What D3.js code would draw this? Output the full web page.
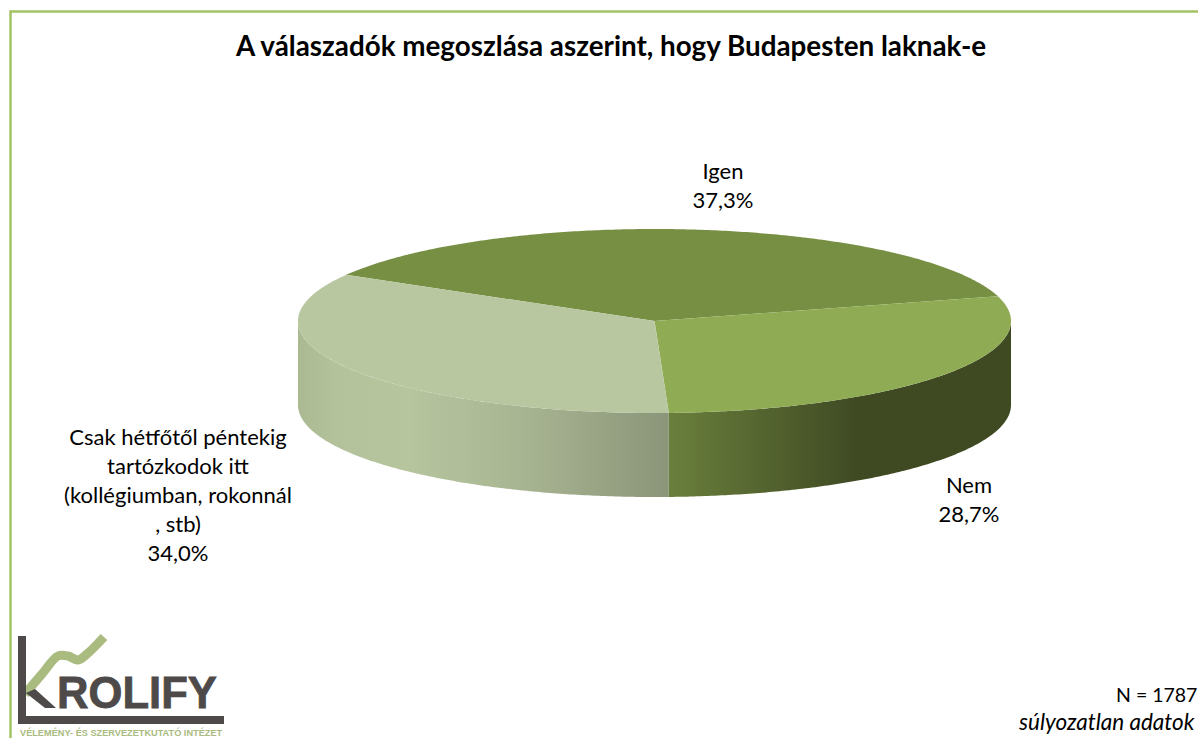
<!DOCTYPE html>
<html><head><meta charset="utf-8">
<script src="https://cdn.jsdelivr.net/npm/d3@7"></script>
<style>html,body{margin:0;padding:0;background:#fff;overflow:hidden}svg{display:block}text{font-family:Lato,"Open Sans",sans-serif;fill:#000}</style>
</head><body><svg id="c" width="1198" height="738"></svg>
<script>
const titleText = "A válaszadók megoszlása aszerint, hogy Budapesten laknak-e";
const categories = ["Igen", "Nem", "Csak hétfőtől péntekig tartózkodok itt (kollégiumban, rokonnál , stb)"];
const values = [37.3, 28.7, 34.0];
const labelLines = [["Igen"], ["Nem"], ["Csak hétfőtől péntekig", "tartózkodok itt", "(kollégiumban, rokonnál", ", stb)"]];
const topColors = ["#778f43", "#8fac54", "#b8c7a0"];
const noteLines = ["N = 1787", "súlyozatlan adatok"];
const logoWord = "ROLIFY";
const logoTag = "VÉLEMÉNY- ÉS SZERVEZETKUTATÓ INTÉZET";

const svg = d3.select("#c");
const cx = 654.5, cy = 321, rx = 356.5, ry = 92, depth = 84;
const x = d3.scaleLinear().domain([-1, 1]).range([cx - rx, cx + rx]);
const y = d3.scaleLinear().domain([-1, 1]).range([cy - ry, cy + ry]);
const rad = d => d * Math.PI / 180;
const start = rad(300.1);
const arcs = d3.pie().sort(null).value(d => d).startAngle(start).endAngle(start + 2 * Math.PI)(values);
const onRim = t => [x(Math.sin(t)), y(-Math.cos(t))];
const samples = (a, b) => { const n = Math.ceil(Math.abs(b - a) / 0.01); return d3.range(n + 1).map(i => a + (b - a) * i / n); };
const line = d3.line();

// border
svg.append("path").attr("d", "M10.5,738V11.5H1198").attr("fill", "none").attr("stroke", "#a3c264").attr("stroke-width", 2.5);

// gradients for the wall
const defs = svg.append("defs");
function grad(id, x1, x2, stops) {
  const g = defs.append("linearGradient").attr("id", id).attr("gradientUnits", "userSpaceOnUse")
    .attr("x1", x1).attr("x2", x2).attr("y1", 0).attr("y2", 0);
  stops.forEach(s => g.append("stop").attr("offset", s[0]).attr("stop-color", s[1]));
}
grad("w1", 669, 1011, [[0, "#6a7f3c"], [0.55, "#3f4a23"], [1, "#3f4a23"]]);
grad("w2", 298, 669, [[0, "#aab991"], [0.1, "#b3c29b"], [0.3, "#b6c59e"], [0.6, "#a8b592"], [1, "#8b9579"]]);

// side walls: only the part of the rim that faces the viewer (angles here run past a full turn)
const wallFront = [rad(450), rad(630)];
[[1, "w1"], [2, "w2"]].forEach(([i, id]) => {
  const a = Math.max(arcs[i].startAngle, wallFront[0]);
  const b = Math.min(arcs[i].endAngle, wallFront[1]);
  const upper = samples(a, b).map(onRim);
  const lower = upper.slice().reverse().map(p => [p[0], p[1] + depth]);
  svg.append("path").attr("d", line(upper.concat(lower)) + "Z").attr("fill", `url(#${id})`);
});

// top faces
arcs.forEach((d, i) => {
  const pts = [[x(0), y(0)]].concat(samples(d.startAngle, d.endAngle).map(onRim));
  svg.append("path").attr("d", line(pts) + "Z").attr("fill", topColors[i]);
});

// title
svg.append("text").attr("x", 611).attr("y", 56).attr("text-anchor", "middle")
  .attr("font-size", 27.8).attr("font-weight", 700).text(titleText);

// data labels
const pct = v => v.toFixed(1).replace(".", ",") + "%";
const labelAnchor = [[723, 179, 29], [969, 493, 29], [178, 445, 29]];
labelLines.forEach((ls, i) => {
  const [lx, ly, lh] = labelAnchor[i];
  const t = svg.append("text").attr("text-anchor", "middle").attr("font-size", 22);
  ls.concat(pct(values[i])).forEach((s, k) => t.append("tspan").attr("x", lx).attr("y", ly + k * lh).text(s));
});

// note
svg.append("text").attr("x", 1116).attr("y", 702).attr("font-size", 19.5).text(noteLines[0]);
svg.append("text").attr("x", 1019).attr("y", 730).attr("font-size", 22.5).attr("font-style", "italic").text(noteLines[1]);

// logo
const logo = svg.append("g");
logo.append("path").attr("d", d3.line().curve(d3.curveCatmullRom)([[25, 694], [42, 674], [58, 656], [68, 656], [78, 660], [87, 654], [104, 637]])).attr("fill", "none").attr("stroke", "#a9bb7f").attr("stroke-width", 9);
logo.append("path").attr("d", "M18,636H26V716H224V724H18Z").attr("fill", "#4d4a49");
logo.append("path").attr("d", "M26,693L45,708H56L35,689Z").attr("fill", "#4d4a49");
logo.append("text").attr("x", 57).attr("y", 708).attr("font-size", 43.6).attr("font-weight", 700)
  .attr("stroke", "#4d4a49").attr("stroke-width", 0.8)
  .style("font-family", "'Liberation Sans',sans-serif").style("fill", "#4d4a49").text(logoWord);
logo.append("text").attr("x", 20).attr("y", 736).attr("font-size", 9.2).attr("font-weight", 700)
  .style("font-family", "'Liberation Sans',sans-serif").style("fill", "#a9bb7f").text(logoTag);
</script></body></html>
